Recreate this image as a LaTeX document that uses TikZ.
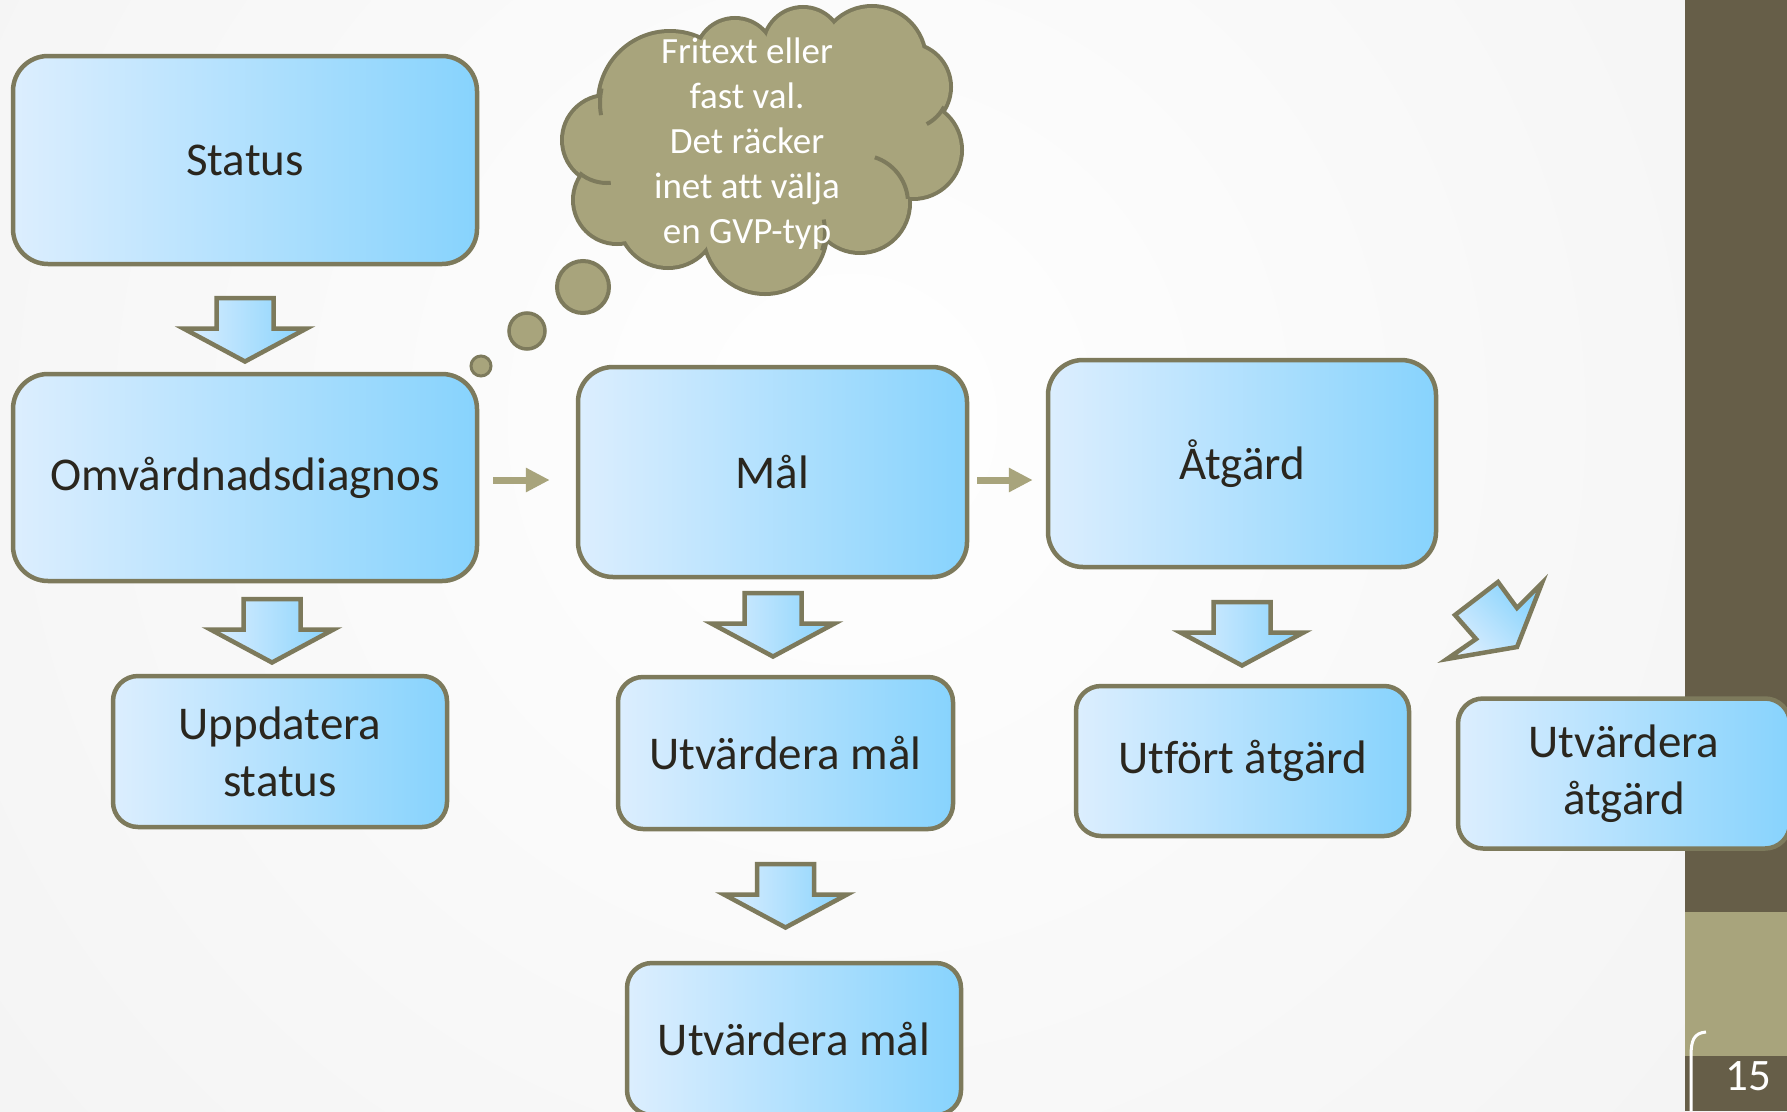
\documentclass[tikz,border=0pt]{standalone}
\usepackage{fontspec}
\setmainfont{Carlito}[Ligatures=NoCommon]
\usetikzlibrary{arrows.meta}
\definecolor{boxL}{HTML}{DCEEFE}
\definecolor{boxR}{HTML}{87D3FD}
\definecolor{edgec}{HTML}{7D7A5C}
\definecolor{olivec}{HTML}{A8A47C}
\definecolor{darkbar}{HTML}{665E48}
\definecolor{txtc}{HTML}{2A261E}
\tikzset{
  boxbase/.style={draw=edgec, line width=4.5pt, left color=boxL, right color=boxR,
    text=txtc, font=\fontsize{47}{57}\selectfont, align=center, inner sep=0pt},
  bigbox/.style={boxbase, rounded corners=35pt},
  smallbox/.style={boxbase, rounded corners=25pt},
  blockarr/.style={draw=edgec, line width=4.5pt, line join=miter, left color=boxL, right color=boxR},
  downarr/.pic={\draw[blockarr] (-28.5,0) -- (28.5,0) -- (28.5,30.5) -- (61.5,30.5) -- (0,63.5) -- (-61.5,30.5) -- (-28.5,30.5) -- cycle;},
  olivearr/.style={draw=olivec, line width=7pt, -{Triangle[length=24pt,width=23pt]}},
  bubble/.style={circle, draw=edgec, fill=olivec, inner sep=0pt},
  cloudedge/.style={draw=edgec, line width=8pt, fill=olivec},
  cloudinner/.style={draw=edgec, line width=4pt},
  cloudtext/.style={text=white, font=\fontsize{37}{45}\selectfont, align=center, inner sep=0pt}
}
\begin{document}
\begin{tikzpicture}[x=1pt,y=-1pt]
\useasboundingbox (0,0) rectangle (1787,1111);
% background
\fill[white] (0,0) rectangle (1787,1111);
\shade[inner color=white, outer color=black!10] (-1650,-2080) rectangle (3350,2920);
% right bar
\fill[darkbar] (1685,0) rectangle (1787,912);
\fill[olivec] (1685,912) rectangle (1787,1056);
\fill[darkbar] (1685,1056) rectangle (1787,1111);
\node[text=white, font=\fontsize{45}{50}\selectfont, inner sep=0pt] (pnum) at (1748,1076) {15};
\draw[white, line width=3pt] (1706,1032) .. controls (1694,1033) and (1691,1040) .. (1691,1056) -- (1691,1111);
% boxes
\node[bigbox, minimum width=464pt, minimum height=208pt] (status) at (245,160) {Status};
\node[bigbox, minimum width=464pt, minimum height=207pt] (omv) at (245,477.5) {Omvårdnadsdiagnos};
\node[smallbox, minimum width=334pt, minimum height=151pt] (upd) at (280,751.5) {Uppdatera\\status};
\node[bigbox, minimum width=389pt, minimum height=210pt] (mal) at (772.5,472) {Mål};
\node[smallbox, minimum width=335pt, minimum height=152pt] (utv1) at (785.5,753) {Utvärdera mål};
\node[smallbox, minimum width=334pt, minimum height=152pt] (utv2) at (794,1039) {Utvärdera mål};
\node[bigbox, minimum width=388pt, minimum height=207pt] (atg) at (1242,463.5) {Åtgärd};
\node[smallbox, minimum width=333pt, minimum height=150pt] (utf) at (1242.5,761) {Utfört åtgärd};
\node[smallbox, minimum width=332pt, minimum height=150pt] (utva) at (1624,773.5) {Utvärdera\\åtgärd};
% block arrows
\pic (a1) at (245,298) {downarr};
\pic (a2) at (272,599) {downarr};
\pic (a3) at (773,593) {downarr};
\pic (a4) at (1242,602) {downarr};
\pic (a5) at (785.5,864) {downarr};
\draw[blockarr, shading angle=135] (1498,582) -- (1517,608) -- (1542,583) -- (1517,647) -- (1447,659) -- (1476,639) -- (1455,615) -- cycle;
% olive arrows
\draw[olivearr, shorten <=14pt, shorten >=26pt] ([yshift=-2.5pt]omv.east) -- ([yshift=-2.5pt]omv.east -| mal.west);
\draw[olivearr, shorten <=8pt, shorten >=13pt] ([yshift=-8pt]mal.east) -- ([yshift=-8pt]mal.east -| atg.west);
% thought cloud
\def\puffs{670/103/70, 735/58/38, 803/47/38, 872/60/52, 907/87/42, 913/150/47, 860/203/48, 765/232/60, 668/218/48, 617/200/42, 607/140/43}
\foreach \cx/\cy/\r in \puffs {\draw[cloudedge] (\cx,\cy) circle[radius=\r];}
\foreach \cx/\cy/\r in \puffs {\fill[olivec] (\cx,\cy) circle[radius=\r];}
\fill[olivec] (670,103) -- (735,58) -- (803,47) -- (872,60) -- (907,87) -- (913,150) -- (860,203) -- (765,232) -- (668,218) -- (617,200) -- (607,140) -- cycle;
\draw[cloudinner] (860,203) ++(-72:48) arc[start angle=-72, end angle=-5, radius=48];
\draw[cloudinner] (907,87) ++(62:42) arc[start angle=62, end angle=28, radius=42];
\draw[cloudinner] (607,140) ++(130:43) arc[start angle=130, end angle=85, radius=43];
\draw[cloudinner] (765,232) ++(18:60) arc[start angle=18, end angle=-12, radius=60];
\draw[cloudinner] (670,103) ++(192:70) arc[start angle=192, end angle=170, radius=70];
\node[cloudtext] (cloudtxt) at (747,144) {Fritext eller\\fast val.\\Det räcker\\inet att välja\\en GVP-typ};
\node[bubble, line width=4pt, minimum size=52pt] (b1) at (583,287) {};
\node[bubble, line width=3.5pt, minimum size=36pt] (b2) at (527,331) {};
\node[bubble, line width=3pt, minimum size=20pt] (b3) at (481,366) {};
\end{tikzpicture}
\end{document}
